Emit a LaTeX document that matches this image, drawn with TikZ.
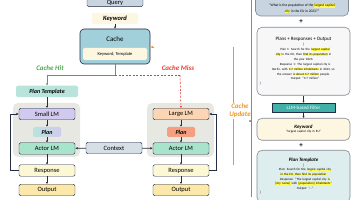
\documentclass[tikz,border=0pt]{standalone}
\usepackage{fontspec}
\setmainfont{Carlito}
\usepackage{xcolor}
\usepackage{tikz}
\usetikzlibrary{arrows.meta, positioning, calc}
\definecolor{mydark}{RGB}{35,45,70}
\definecolor{querygray}{RGB}{200,212,224}
\definecolor{keycream}{RGB}{253,246,224}
\definecolor{cacheblue}{RGB}{162,208,218}
\definecolor{tmplteal}{RGB}{184,228,220}
\definecolor{groupgray}{RGB}{232,232,226}
\definecolor{smalllav}{RGB}{210,202,238}
\definecolor{actormint}{RGB}{168,228,204}
\definecolor{largepeach}{RGB}{252,214,180}
\definecolor{plansalmon}{RGB}{244,160,128}
\definecolor{respyellow}{RGB}{253,248,212}
\definecolor{outyellow}{RGB}{252,232,170}
\definecolor{ctxgray}{RGB}{214,222,230}
\definecolor{hitgreen}{RGB}{76,168,76}
\definecolor{missred}{RGB}{232,60,50}
\definecolor{updorange}{RGB}{240,150,40}
\definecolor{filterteal}{RGB}{64,176,168}
\definecolor{panelline}{RGB}{130,138,148}
\definecolor{tplpanel}{RGB}{222,238,238}
\definecolor{respanel}{RGB}{247,247,247}
\definecolor{hlyellow}{RGB}{255,250,80}
\newcommand{\hlt}[1]{{\setlength{\fboxsep}{0.2pt}\colorbox{hlyellow}{#1}}}
\newcommand{\ptitle}{\fontsize{5}{6}\selectfont}
\tikzset{
  box/.style={rectangle, draw=mydark, line width=0.4pt, rounded corners=1.5pt,
    minimum width=56pt, minimum height=11.5pt, inner sep=0pt,
    font=\fontsize{6.5}{7}\selectfont},
  group/.style={rectangle, fill=groupgray, rounded corners=5pt,
    minimum width=67pt, minimum height=54pt, inner sep=0pt},
  panel/.style={rectangle, draw=panelline, line width=0.6pt, rounded corners=5pt,
    text width=88pt, align=left, inner sep=2.5pt,
    font=\fontsize{3.2}{4.2}\selectfont},
  arrow/.style={-{Latex[length=2pt,width=2.2pt]}, line width=0.5pt, color=mydark},
  loop/.style={-{Latex[length=2.5pt,width=2.5pt]}, line width=0.8pt, color=mydark},
  hitline/.style={line width=0.6pt, color=hitgreen},
  missline/.style={line width=0.6pt, color=missred, dash pattern=on 2pt off 1.5pt},
  lbl/.style={font=\fontsize{7}{8}\selectfont\bfseries\itshape}
}
\begin{document}
\begin{tikzpicture}[x=1pt, y=-1pt]
    \useasboundingbox (0,0) rectangle (356,200);

    % Query -> Keyword -> Cache
    \node[box, fill=querygray, minimum width=56pt, minimum height=8pt] (query) at (115,2.7) {Query};
    \node[box, fill=keycream, draw=none, minimum width=46pt, minimum height=11pt,
      font=\fontsize{6.5}{7}\selectfont\bfseries\itshape] (kw) at (115,18.5) {Keyword};
    \node[rectangle, draw=mydark, line width=0.6pt, fill=cacheblue, rounded corners=4pt,
      minimum width=70pt, minimum height=35pt] (cache) at (115,46.5) {};
    \node[font=\fontsize{7}{8}\selectfont] (cachetxt) at (115,39) {Cache};
    \node[box, fill=keycream, draw=none, minimum width=64pt, minimum height=12pt,
      font=\fontsize{4.5}{5}\selectfont] (store) at (115,54) {Keyword, Template};
    \draw[arrow] (kw) -- (cache);

    % Cache Hit / Cache Miss
    \coordinate (split) at (115,75);
    \coordinate (hitturn) at (47,75);
    \coordinate (missturn) at (180,75);
    \node[lbl, text=hitgreen] (hit) at (50,68) {Cache Hit};
    \node[lbl, text=missred] (miss) at (178,68) {Cache Miss};

    % Small LM branch
    \node[box, fill=tmplteal, draw=none, minimum width=62pt,
      font=\fontsize{6}{7}\selectfont\bfseries\itshape] (tmpl) at (47,91.5) {Plan Template};
    \node[group] (lgroup) at (46.5,130) {};
    \node[box, fill=smalllav] (small) at (47,114) {Small LM};
    \node[box, draw=none, left color=tmplteal, right color=smalllav, minimum width=28pt,
      minimum height=10pt, font=\fontsize{6}{7}\selectfont\bfseries\itshape] (lplan) at (47,132) {Plan};
    \node[box, fill=actormint] (lactor) at (47,148.5) {Actor LM};
    \node[box, fill=respyellow] (lresp) at (47,170.5) {Response};
    \node[box, fill=outyellow] (lout) at (47,190) {Output};

    % Large LM branch
    \node[group] (rgroup) at (180.5,130) {};
    \node[box, fill=largepeach] (large) at (181,114) {Large LM};
    \node[box, draw=none, fill=plansalmon, minimum width=28pt, minimum height=10pt,
      font=\fontsize{6}{7}\selectfont\bfseries\itshape] (rplan) at (181,132) {Plan};
    \node[box, fill=actormint] (ractor) at (181,148.5) {Actor LM};
    \node[box, fill=respyellow] (rresp) at (181,170.5) {Response};
    \node[box, fill=outyellow] (rout) at (181,190) {Output};

    \node[box, fill=ctxgray] (ctx) at (114,148) {Context};

    \draw[hitline] (cache.south) -- (split) -- (hitturn);
    \draw[hitline, -{Latex[length=2pt,width=2.2pt]}] (hitturn) -- (tmpl.north);
    \draw[missline] (split) -- (missturn);
    \draw[missline, -{Latex[length=2pt,width=2.2pt]}] (missturn) -- (large.north);

    \draw[arrow] (tmpl) -- (small);
    \draw[arrow] (small) -- (lplan);
    \draw[arrow] (lplan) -- (lactor);
    \draw[arrow] (lactor) -- (lresp);
    \draw[arrow] (lresp) -- (lout);
    \draw[arrow] (large) -- (rplan);
    \draw[arrow] (rplan) -- (ractor);
    \draw[arrow] (ractor) -- (rresp);
    \draw[arrow] (rresp) -- (rout);
    \draw[loop] (ctx) -- (lactor);
    \draw[loop] (ctx) -- (ractor);
    \draw[loop] (lresp.west) -- ++(-8,0) |- (small.west);
    \draw[loop] (rresp.east) -- ++(7,0) |- (large.east);

    % Cache Update
    \coordinate (updtop) at (233,47);
    \coordinate (updbot) at (233,165);
    \draw[line width=0.7pt, updorange] (updtop) -- (updbot);
    \node[lbl, text=updorange, fill=white, align=center, inner sep=1pt] (upd) at (240,111) {Cache\\Update};
    \draw[-{Latex[length=2.5pt,width=2.5pt]}, line width=0.6pt, updorange] ($(cache.east)+(4,0.5)$) -- ($(cache.east)+(0,0.5)$);

    % Right panel
    \coordinate (pantop) at (251,0);
    \coordinate (panbot) at (251,197);
    \coordinate (panmid) at (251,121);
    \draw[line width=0.7pt, panelline] (pantop) -- (panbot);
    \draw[-{Latex[length=2.5pt,width=2.5pt]}, line width=0.6pt, panelline] (panmid) -- (upd.east |- panmid);

    \node[panel, fill=querygray, minimum height=26pt] (pqbox) at (302,3) {};
    \node[font=\fontsize{3.6}{5.5}\selectfont, align=center, inner sep=0pt] (pquery) at (302,8.5)
      {``What is the population of the \hlt{largest capital}\\ \hlt{city} in the EU in 2023?''};
    \node[font=\fontsize{7}{7}\selectfont\bfseries] (plus1) at (301,22) {+};
    \node[panel, fill=respanel, anchor=north, minimum height=68pt,
      font=\fontsize{3.2}{4.9}\selectfont] (presp) at (303.5,27)
      {\centering{\ptitle Plans + Responses + Output}\par
       [\\
       \quad Plan 1: Search for the \hlt{largest capital}\\
       \hlt{city} in the EU, then \hlt{find its population} in\\
       the year 2023.\\
       \quad Response 1: The largest capital city is\\
       Berlin, with \hlt{3.7 million inhabitants} in 2023, so\\
       the answer \hlt{is about 3.7 million} people.\\
       \quad Output: ``3.7 million''\\
       ]};
    \node[rectangle, draw=mydark, line width=0.3pt, fill=filterteal, text=white,
      minimum width=63pt, minimum height=9pt, inner sep=0pt,
      font=\fontsize{5}{6}\selectfont] (filter) at (303.5,107.5) {LLM-based Filter};
    \node[panel, fill=keycream, align=center, anchor=north, minimum height=22pt] (pkw) at (303.5,118)
      {{\ptitle\bfseries\itshape Keyword}\\ ``largest capital city in EU''};
    \node[font=\fontsize{7}{7}\selectfont\bfseries] (plus2) at (301,146) {+};
    \node[panel, fill=tplpanel, anchor=north, minimum height=52pt,
      font=\fontsize{3.2}{4.6}\selectfont] (ptpl) at (303.5,150)
      {\centering{\ptitle\bfseries\itshape Plan Template}\par
       [\\
       \quad Plan: Search for the \hlt{largest capital city}\\
       \hlt{in the EU, then find its population}\\
       \quad Response: ``The largest capital city \hlt{is}\\
       \hlt{[city name]} with \hlt{[population] inhabitants}''\\
       \quad Output: ``...''\\
       ]};
    \draw[arrow] (presp) -- (filter);
    \draw[arrow] (filter) -- (pkw);
  \end{tikzpicture}
\end{document}
